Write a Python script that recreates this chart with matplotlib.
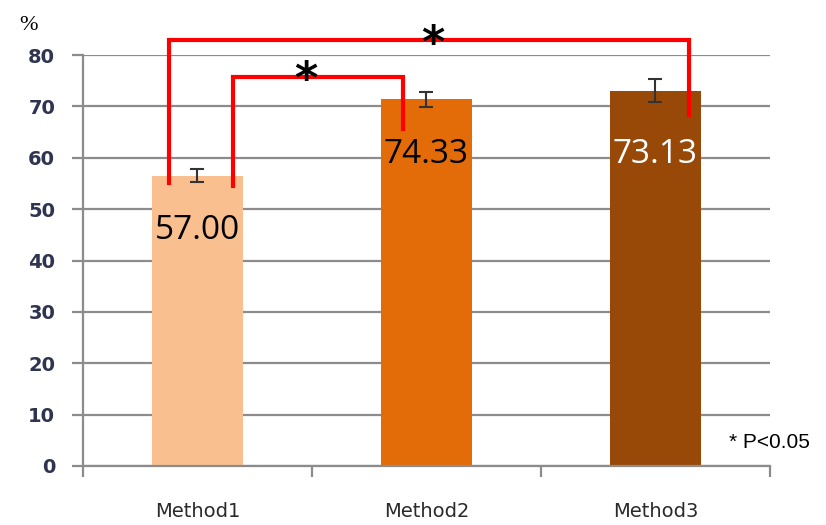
import matplotlib
matplotlib.use('Agg')
import matplotlib.pyplot as plt
import numpy as np

# Daten
methods = ["Method1", "Method2", "Method3"]
means = [56.5, 71.4, 73.1]
errors = [1.3, 1.5, 2.2]
value_labels = ["57.00", "74.33", "73.13"]
label_colors = ["black", "black", "white"]
bar_colors = ["#F9BF8F", "#E36C09", "#984807"]

fig = plt.figure(figsize=(8.26, 5.25), dpi=100)
ax = fig.add_axes([0.1005, 0.1124, 0.8315, 0.7826])

x = np.arange(len(methods))
ax.bar(x, means, width=0.4, color=bar_colors, zorder=2)
ax.errorbar(x, means, yerr=errors, fmt="none", ecolor="#333333",
            elinewidth=1.5, capsize=5, capthick=1.5, zorder=3)

# Wertbeschriftungen in den Balken
label_y = [45.9, 60.6, 60.6]
for xi, txt, col, ly in zip(x, value_labels, label_colors, label_y):
    ax.text(xi, ly, txt, ha="center", va="center", fontsize=24,
            color=col, family="Open Sans", zorder=4)

ax.set_xlim(-0.5, 2.5)
ax.set_ylim(0, 80)
ax.set_yticks(range(0, 81, 10))
ax.yaxis.grid(True, color="#8c8c8c", linewidth=1.6, zorder=0)
ax.set_axisbelow(True)

ax.set_xticks([-0.5, 0.5, 1.5, 2.5])
ax.set_xticklabels([])
ax.set_xticks(x, minor=True)
ax.set_xticklabels(methods, minor=True)
ax.tick_params(axis="x", which="minor", length=0, pad=26, labelsize=14,
               labelcolor="#2a2a2a")
ax.tick_params(axis="x", which="major", length=8, width=1.6, color="#8c8c8c")
ax.tick_params(axis="y", length=8, width=1.6, color="#8c8c8c",
               labelsize=14, labelcolor="#2f3450", pad=12)
for lab in ax.get_yticklabels():
    lab.set_fontweight("bold")
    lab.set_family("DejaVu Sans")
for lab in ax.get_xticklabels(minor=True):
    lab.set_family("DejaVu Sans")

for s in ["top", "right"]:
    ax.spines[s].set_visible(False)
ax.spines["left"].set_color("#8c8c8c")
ax.spines["left"].set_linewidth(1.6)
ax.spines["bottom"].set_color("#8c8c8c")
ax.spines["bottom"].set_linewidth(1.6)

# Signifikanz-Klammern
red = "#FF0000"
ax.plot([-0.124, -0.124, 2.146, 2.146], [55.1, 82.9, 82.9, 68.4],
        color=red, lw=3, clip_on=False, zorder=5, solid_joinstyle="miter")
ax.plot([0.155, 0.155, 0.897, 0.897], [54.5, 75.7, 75.7, 65.6],
        color=red, lw=3, clip_on=False, zorder=5, solid_joinstyle="miter")
ax.text(0.474, 75.0, "*", ha="center", va="center", fontsize=32,
        fontweight="bold", clip_on=False, zorder=6)
ax.text(1.027, 82.0, "*", ha="center", va="center", fontsize=32,
        fontweight="bold", clip_on=False, zorder=6)

fig.text(0.034, 0.952, "%", fontsize=16, family="Liberation Serif",
         ha="center", va="center")
fig.text(0.882, 0.157, "* P<0.05", fontsize=15, family="Liberation Sans",
         ha="left", va="center")

plt.savefig("out.png", dpi=100)
